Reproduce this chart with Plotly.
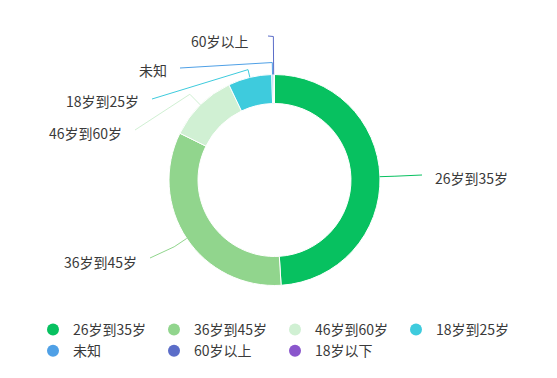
import math
import plotly.graph_objects as go

# ---- data ----
categories = ["26岁到35岁", "36岁到45岁", "46岁到60岁", "18岁到25岁", "未知", "60岁以上", "18岁以下"]
values = [4900, 3330, 1060, 670, 20, 15, 5]
colors = ["#07C160", "#91D58D", "#D0F0D3", "#3ECBDD", "#4FA0E6", "#5B6DC8", "#8A56CC"]

# ---- layout constants (pixels) ----
W, H = 557, 378
CX, CY, R = 274.5, 180.0, 105.5
HOLE = 0.725
FONT = "Noto Sans CJK SC"
TXT = "#3a3a3a"

# label layout: (line end x, line end y, label x, label y, side, radial stub length)
label_layout = {
    "26岁到35岁": (422, 175, 433, 178, "right", 15),
    "36岁到45岁": (150, 258, 139, 262, "left", 15),
    "46岁到60岁": (135, 130, 124, 133, "left", 15),
    "18岁到25岁": (152, 99, 141, 101, "left", 8),
    "未知": (180, 68, 169, 70, "left", 12),
    "60岁以上": (268, 36, 251, 41, "left", 38),
}


def px(x):
    return x / W


def py(y):
    return 1 - y / H


fig = go.Figure()

fig.add_trace(go.Pie(
    labels=categories,
    values=values,
    marker=dict(colors=colors, line=dict(color="#ffffff", width=1)),
    hole=HOLE,
    sort=False,
    direction="clockwise",
    rotation=0,
    textinfo="none",
    showlegend=False,
    domain=dict(x=[px(CX - R), px(CX + R)], y=[py(CY + R), py(CY - R)]),
))

# legend entries with circle symbols
for c, col in zip(categories, colors):
    fig.add_trace(go.Scatter(
        x=[None], y=[None], mode="markers", name=c,
        marker=dict(symbol="circle", size=14, color=col),
        showlegend=True, hoverinfo="skip",
    ))

# leader lines and labels, anchored at each slice's mid angle
total = sum(values)
cum = 0.0
shapes = []
annotations = []
for c, v, col in zip(categories, values, colors):
    mid = (cum + v / 2) / total * 2 * math.pi
    cum += v
    if c not in label_layout:
        continue
    ex, ey, lx, ly, side, stub = label_layout[c]
    dx, dy = math.sin(mid), -math.cos(mid)
    x0, y0 = CX + R * dx, CY + R * dy
    x1, y1 = CX + (R + stub) * dx, CY + (R + stub) * dy
    path = f"M {px(x0)} {py(y0)} L {px(x1)} {py(y1)} L {px(ex)} {py(ey)}"
    shapes.append(dict(type="path", xref="paper", yref="paper", path=path,
                       line=dict(color=col, width=1)))
    annotations.append(dict(
        x=px(lx), y=py(ly), xref="paper", yref="paper", text=c, showarrow=False,
        xanchor="left" if side == "right" else "right", yanchor="middle",
        font=dict(family=FONT, size=14, color=TXT),
    ))

fig.update_layout(
    width=W, height=H, autosize=False,
    margin=dict(l=0, r=0, t=0, b=0),
    paper_bgcolor="#ffffff", plot_bgcolor="#ffffff",
    xaxis=dict(visible=False), yaxis=dict(visible=False),
    shapes=shapes, annotations=annotations,
    font=dict(family=FONT, size=14, color=TXT),
    legend=dict(
        orientation="h", x=px(33), y=py(314), xanchor="left", yanchor="top",
        entrywidth=76, entrywidthmode="pixels", itemsizing="constant",
        font=dict(family=FONT, size=14, color=TXT), bgcolor="rgba(0,0,0,0)",
        tracegroupgap=0,
    ),
)

fig.write_html("out.html", config={"displayModeBar": False},
               post_script="document.body.style.margin='0';")
